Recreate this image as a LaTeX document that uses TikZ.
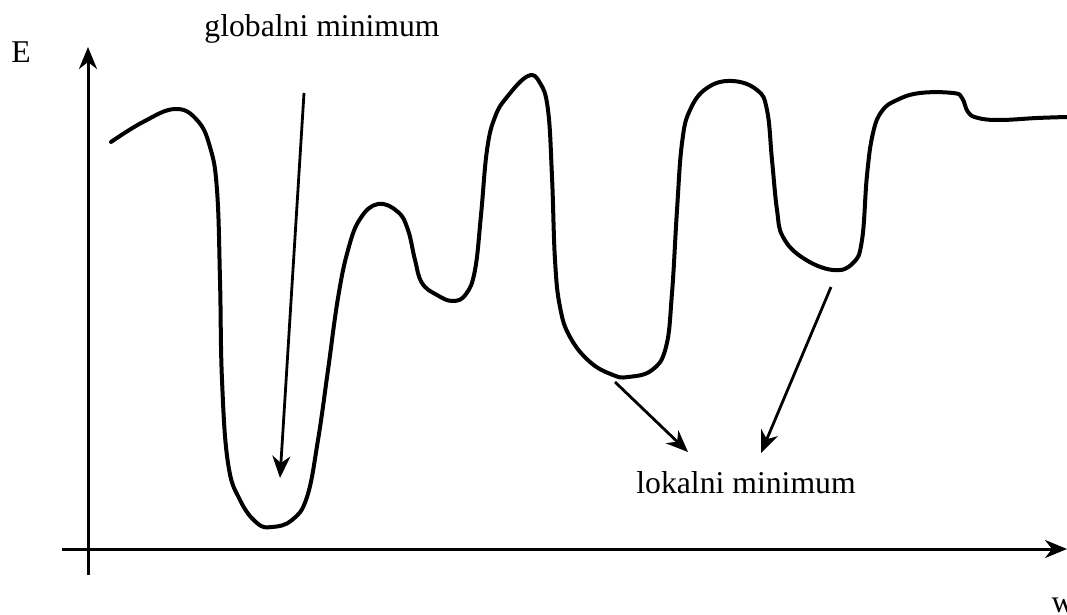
\documentclass[tikz,border=0pt]{standalone}
\usepackage{fontspec}
\setmainfont{Liberation Serif}
\usetikzlibrary{arrows.meta}

\begin{document}
\begin{tikzpicture}[
  x=1pt, y=-1pt,
  axis/.style={line width=3pt, -{Stealth[length=22pt, width=18pt, inset=7pt]}},
  pointer/.style={line width=2.8pt, -{Stealth[length=22pt, width=18pt, inset=7pt]}},
  curve/.style={line width=4pt, line join=round, line cap=round},
  label/.style={font=\fontsize{31.7}{38}\selectfont, inner sep=0pt, anchor=base}
]
\useasboundingbox (0,0) rectangle (1067,615);

% Axes
\coordinate (y0) at (88,575);
\coordinate (y1) at (88,47);
\coordinate (x0) at (62,549);
\coordinate (x1) at (1067,549);
\draw[axis] (y0) -- (y1);
\draw[axis] (x0) -- (x1);
\node[label] (E) at (21,63) {E};
\node[label] (w) at (1063,612) {w};

% Energy curve
\draw[curve] plot[smooth, tension=0.7] coordinates {
  (111,142) (143,122) (175,109) (197,120) (210,147) (217,190) (220,280)
  (222,380) (228,463) (240,500) (257,523) (272,527) (292,520) (307,497)
  (318,440) (328,370) (338,298) (348,250) (360,219) (378,204) (398,212)
  (408,230) (415,260) (422,283) (437,295) (453,301) (466,294) (475,270)
  (481,215) (487,150) (495,117) (507,97) (528,76) (540,83) (548,110)
  (552,177) (555,260) (560,307) (570,337) (590,362) (613,375) (628,377)
  (652,370) (666,347) (672,293) (677,210) (682,143) (690,110) (707,88)
  (732,81) (757,90) (767,110) (772,160) (777,210) (783,237) (803,258)
  (833,270) (853,263) (862,240) (867,175) (873,133) (882,111) (897,100)
  (920,93) (953,93) (962,98) (968,112) (978,118) (1000,120) (1037,118)
  (1067,117)};

% Global minimum
\node[label] (glob) at (322,37) {globalni minimum};
\coordinate (g0) at (304,93);
\coordinate (g1) at (280,478);
\draw[pointer] (g0) -- (g1);

% Local minima
\node[label] (lok) at (746,493) {lokalni minimum};
\coordinate (a0) at (615,382);
\coordinate (a1) at (688,452);
\draw[pointer] (a0) -- (a1);
\coordinate (b0) at (831,287);
\coordinate (b1) at (761,453);
\draw[pointer] (b0) -- (b1);

\end{tikzpicture}
\end{document}
